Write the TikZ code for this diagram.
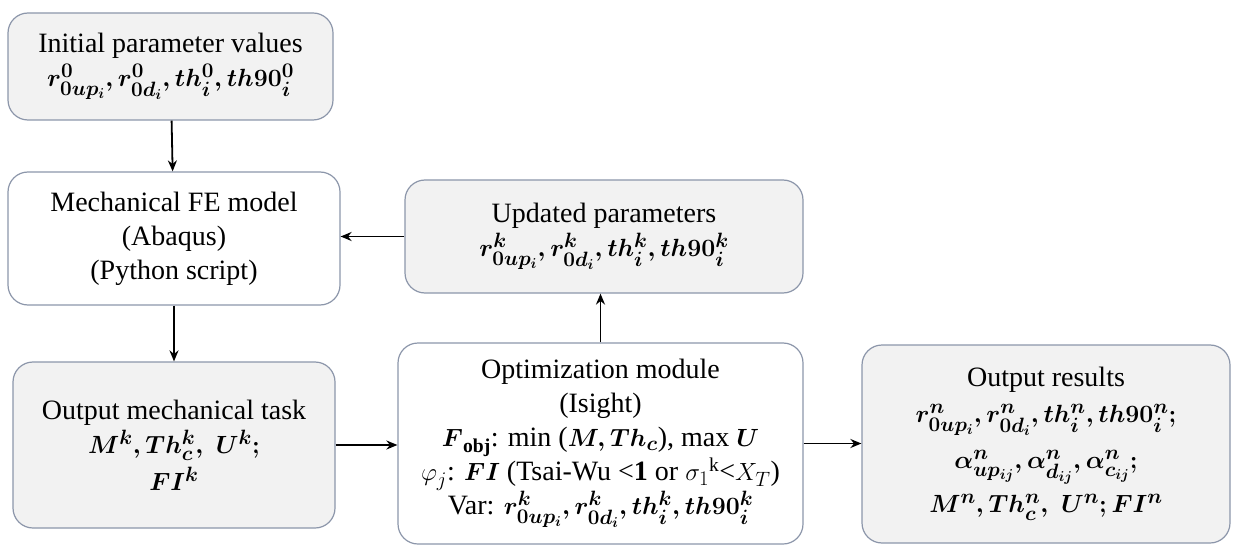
\documentclass[tikz,border=0pt]{standalone}
\usepackage{amsmath}
\usepackage{fontspec}
\newfontfamily\timesfont{Liberation Serif}
\usepackage{tikz}
\usetikzlibrary{arrows.meta}

\definecolor{boxline}{HTML}{8C96AA}
\definecolor{boxgray}{HTML}{F2F2F2}

\tikzset{
  blk/.style={draw=boxline, line width=1.2pt, rounded corners=20pt, align=center,
    font=\timesfont\fontsize{28}{34}\selectfont, inner sep=0pt},
  grayblk/.style={blk, fill=boxgray},
  flow/.style={-{Stealth[length=11pt, width=9pt]}, line width=1.8pt}
}

\newcommand{\bs}[1]{\ensuremath{\boldsymbol{#1}}}

\begin{document}
\begin{tikzpicture}[x=1pt,y=-1pt]

\useasboundingbox (0,0) rectangle (1238,545);

\node[grayblk, minimum width=325pt, minimum height=107pt] (init) at (170.5,66.5)
  {Initial parameter values\\ \bs{r^{0}_{0up_i}, r^{0}_{0d_i}, th^{0}_i, th90^{0}_i}};

\node[blk, minimum width=332pt, minimum height=133pt] (fe) at (174,238.5)
  {Mechanical FE model\\ (Abaqus)\\ (Python script)};

\node[grayblk, minimum width=322pt, minimum height=166pt] (task) at (174,445)
  {Output mechanical task\\ \bs{M^{k}, Th^{k}_c,\; U^{k};}\\[3pt] \bs{FI^{k}}};

\node[grayblk, minimum width=398pt, minimum height=113pt] (upd) at (604,236.5)
  {Updated parameters\\ \bs{r^{k}_{0up_i}, r^{k}_{0d_i}, th^{k}_i, th90^{k}_i}};

\node[blk, minimum width=405pt, minimum height=201pt] (opt) at (600.5,443.5)
  {Optimization module\\ (Isight)\\
   $\bs{F}_{\textbf{obj}}$: min (\bs{M, Th_c}), max \bs{U}\\
   $\varphi_j$: \bs{FI} (Tsai-Wu <\textbf{1} or $\sigma_1$\textsuperscript{k}<$X_T$)\\
   Var: \bs{r^{k}_{0up_i}, r^{k}_{0d_i}, th^{k}_i, th90^{k}_i}};

\node[grayblk, minimum width=368pt, minimum height=198pt] (res) at (1046,444)
  {Output results\\[2pt] \bs{r^{n}_{0up_i}, r^{n}_{0d_i}, th^{n}_i, th90^{n}_i;}\\[12pt]
   \bs{\alpha^{n}_{up_{ij}}, \alpha^{n}_{d_{ij}}, \alpha^{n}_{c_{ij}};}\\[10pt]
   \bs{M^{n}, Th^{n}_c,\; U^{n}; FI^{n}}};

\draw[flow] (init) -- (fe);
\draw[flow] (fe) -- (task);
\draw[flow] (task.east) -- (task.east -| opt.west);
\draw[flow] (opt.north) -- (opt.north |- upd.south);
\draw[flow] (upd.west) -- (upd.west -| fe.east);
\draw[flow] (opt.east) -- (opt.east -| res.west);

\end{tikzpicture}
\end{document}
